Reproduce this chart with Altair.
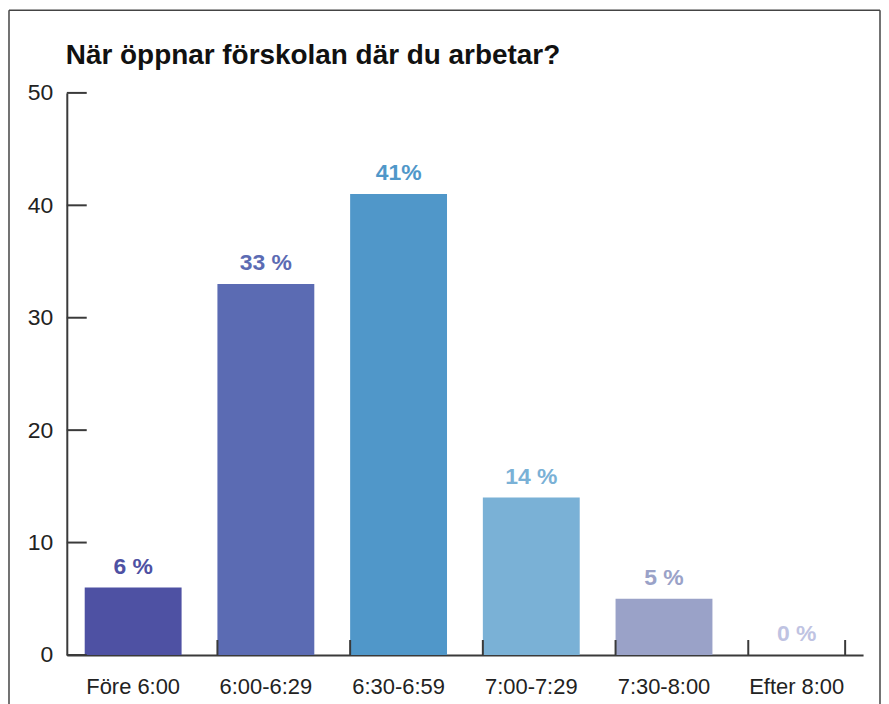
import altair as alt
import pandas as pd

categories = ["Före 6:00", "6:00-6:29", "6:30-6:59", "7:00-7:29", "7:30-8:00", "Efter 8:00"]
values = [6, 33, 41, 14, 5, 0]
value_labels = ["6 %", "33 %", "41%", "14 %", "5 %", "0 %"]
bar_colors = ["#4e51a3", "#5b6bb3", "#5097c9", "#7ab1d6", "#9aa2c8", "#bfc3e2"]
y_ticks = [0, 10, 20, 30, 40, 50]
title_text = "När öppnar förskolan där du arbetar?"

df = pd.DataFrame({"cat": categories, "val": values, "lab": value_labels})
ticks_df = pd.DataFrame({"t": y_ticks})
bound_df = pd.DataFrame({"cat": categories[1:]})
last_df = pd.DataFrame({"cat": categories[-1:]})
one_df = pd.DataFrame({"title": [title_text]})

W, H = 799, 564
FONT = "Liberation Sans"
AX = "#3a3a3a"

xscale = alt.Scale(domain=categories, paddingInner=0.27, paddingOuter=0.135)
yscale = alt.Scale(domain=[0, 50], nice=False)
cscale = alt.Scale(domain=categories, range=bar_colors)

x_enc = alt.X("cat:N", scale=xscale, sort=categories,
              axis=alt.Axis(title=None, labelAngle=0, ticks=False, labelPadding=22,
                            labelFontSize=22, labelFont=FONT, labelColor="#222",
                            domainColor=AX, domainWidth=2))
y_enc = alt.Y("val:Q", scale=yscale,
              axis=alt.Axis(title=None, values=y_ticks, ticks=False, grid=False,
                            labelPadding=14, labelFontSize=23, labelFont=FONT,
                            labelColor="#222", domainColor=AX, domainWidth=2))

bars = alt.Chart(df).mark_bar().encode(
    x=x_enc, y=y_enc,
    color=alt.Color("cat:N", scale=cscale, legend=None),
)

text = alt.Chart(df).mark_text(baseline="bottom", dy=-9, fontSize=23, fontWeight="bold",
                               font=FONT).encode(
    x=alt.X("cat:N", scale=xscale, sort=categories),
    y=alt.Y("val:Q", scale=yscale),
    text="lab:N",
    color=alt.Color("cat:N", scale=cscale, legend=None),
)

yt = alt.Chart(ticks_df).mark_rule(color=AX, strokeWidth=2).encode(
    y=alt.Y("t:Q", scale=yscale),
    x=alt.value(0), x2=alt.value(20),
)

xt = alt.Chart(bound_df).mark_rule(color=AX, strokeWidth=2).encode(
    x=alt.X("cat:N", scale=xscale, sort=categories, bandPosition=0),
    y=alt.value(H), y2=alt.value(H - 15),
)
xt_last = alt.Chart(last_df).mark_rule(color=AX, strokeWidth=2).encode(
    x=alt.X("cat:N", scale=xscale, sort=categories, bandPosition=1),
    y=alt.value(H), y2=alt.value(H - 15),
)

title = alt.Chart(one_df).mark_text(align="left", baseline="alphabetic", fontSize=28,
                                    fontWeight="bold", font=FONT, color="#111").encode(
    x=alt.value(-1), y=alt.value(-29), text="title:N")

frame_col = "#444"
f_left = alt.Chart(one_df).mark_rule(color=frame_col, strokeWidth=1.5).encode(
    x=alt.value(-58), y=alt.value(-83), y2=alt.value(640))
f_right = alt.Chart(one_df).mark_rule(color=frame_col, strokeWidth=1.5).encode(
    x=alt.value(816), y=alt.value(-83), y2=alt.value(640))
f_top = alt.Chart(one_df).mark_rule(color=frame_col, strokeWidth=1.5).encode(
    x=alt.value(-58), x2=alt.value(816), y=alt.value(-83))

chart = alt.layer(bars, text, yt, xt, xt_last, title, f_left, f_right, f_top).properties(
    width=W, height=H,
    autosize=alt.AutoSizeParams(type="none"),
    padding={"left": 59, "top": 84, "right": 18, "bottom": 48},
).configure_view(stroke=None)

chart.save("out.html", embed_options={"renderer": "svg", "actions": False})
